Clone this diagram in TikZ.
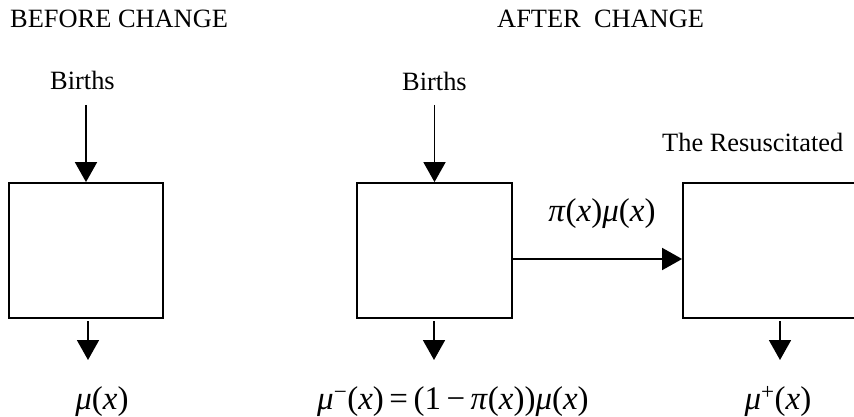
\documentclass[tikz,border=0pt]{standalone}
\usepackage{fontspec}
\setmainfont{Liberation Serif}
\usetikzlibrary{arrows.meta}
\newcommand\myit[1]{\textit{#1}}
\begin{document}
\begin{tikzpicture}[x=1pt,y=-1pt,
  box/.style={draw,line width=1.8pt,inner sep=0,minimum height=135pt},
  arr/.style={line width=1.8pt,-{Triangle[length=20pt,width=22pt]}},
  txt/.style={inner sep=0,anchor=base west,font=\fontsize{26.4}{30}\selectfont},
  mth/.style={inner sep=0,anchor=base,font=\fontsize{33}{37}\selectfont}]
\useasboundingbox (0,0) rectangle (854,417);
\clip (0,0) rectangle (854,417);
% headers
\node[txt] (before) at (10,28) {BEFORE CHANGE};
\node[txt] (after) at (497,28) {AFTER\ \ CHANGE};
\node[txt] (births1) at (50,90) {Births};
\node[txt] (births2) at (402,91) {Births};
\node[txt] (resus) at (662,152) {The Resuscitated};
% boxes
\node[box,minimum width=154pt] (box1) at (86,250.5) {};
\node[box,minimum width=155pt] (box2) at (434.5,250.5) {};
\node[box,minimum width=194pt] (box3) at (780,250.5) {};
% arrow start / end points
\coordinate (in1) at (86,105);
\coordinate (in2) at (434.5,105);
\coordinate (out1s) at (88,321);
\coordinate (out1e) at (88,360);
\coordinate (out2s) at (434,321);
\coordinate (out2e) at (434,360);
\coordinate (out3s) at (780,321);
\coordinate (out3e) at (780,360);
\draw[arr] (in1) -- (box1.north);
\draw[arr] (in2) -- (box2.north);
\draw[arr] ([yshift=-8.5pt]box2.east) -- ([yshift=-8.5pt]box3.west);
\draw[arr] (out1s) -- (out1e);
\draw[arr] (out2s) -- (out2e);
\draw[arr] (out3s) -- (out3e);
% math labels
\node[mth] (flow) at (602,221) {\myit{π}(\myit{x})\myit{μ}(\myit{x})};
\node[mth] (mu) at (102,409) {\myit{μ}(\myit{x})};
\node[mth,anchor=base west] (muminus) at (317,409) {\myit{μ}\textsuperscript{−}(\myit{x})\,=\,(1\,−\,\myit{π}(\myit{x}))\myit{μ}(\myit{x})};
\node[mth] (muplus) at (778,409) {\myit{μ}\textsuperscript{+}(\myit{x})};
\end{tikzpicture}
\end{document}
